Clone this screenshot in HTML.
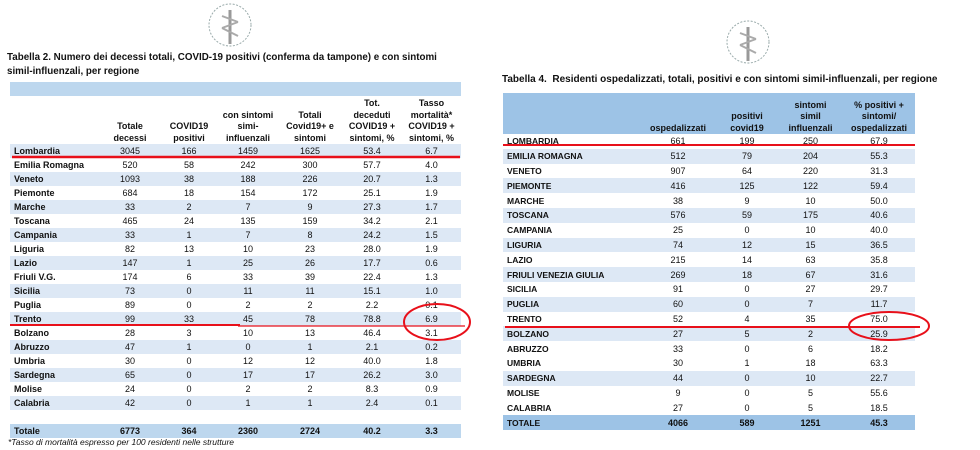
<!DOCTYPE html>
<html><head><meta charset="utf-8"><style>
body{margin:0;width:980px;height:450px;background:#fff;position:relative;overflow:hidden;font-family:"Liberation Sans",sans-serif;color:#111}
.abs{position:absolute}
table{border-collapse:collapse;table-layout:fixed;position:absolute}
td{padding:0;font-size:9px;text-align:center;white-space:nowrap;overflow:hidden;line-height:10px}
td.l{text-align:left;font-weight:bold;padding-left:4px}
#t1 tr.d td{height:14px}
#t1 tr.s td{background:#dde8f5}
#t1 th,#t2 th{font-size:9px;font-weight:bold;vertical-align:bottom;line-height:11.5px;padding:0}
#t2 tr.d td{height:14.8px}
#t2 tr.s td{background:#dde8f5}
#t2 td.l{padding-left:4px;font-size:8.5px}
.tit{font-weight:bold;font-size:9.8px}
</style></head><body>
<svg class="abs" style="left:0;top:0" width="980" height="450">
 <g fill="none" stroke="#9aa" stroke-width="1">
  <circle cx="230" cy="25" r="21" stroke-dasharray="2 1.5"/>
  <circle cx="748" cy="42" r="21" stroke-dasharray="2 1.5"/>
 </g>
 <g stroke="#999" stroke-width="3">
  <line x1="230" y1="10" x2="230" y2="44"/><line x1="748" y1="27" x2="748" y2="61"/>
 </g>
 <g stroke="#aaa" stroke-width="2">
  <path d="M222 16 L238 22 M222 28 L238 22 M222 28 L238 36" fill="none"/>
  <path d="M740 33 L756 39 M740 45 L756 39 M740 45 L756 53" fill="none"/>
 </g>
</svg>
<div class="abs tit" style="left:7px;top:51px;line-height:14px">Tabella 2. Numero dei decessi totali, COVID-19 positivi (conferma da tampone) e con sintomi<br>simil-influenzali, per regione</div>
<div class="abs tit" style="left:502px;top:74px;font-size:10px">Tabella 4.&nbsp; Residenti ospedalizzati, totali, positivi e con sintomi simil-influenzali, per regione</div>

<table id="t1" style="left:10px;top:82px;width:451px">
<colgroup><col style="width:90px"><col style="width:60px"><col style="width:58px"><col style="width:60px"><col style="width:64px"><col style="width:60px"><col style="width:59px"></colgroup>
<tr><td colspan="7" style="height:14px;background:#bdd7ee"></td></tr>
<tr><th style="height:48px"></th><th>Totale<br>decessi</th><th>COVID19<br>positivi</th><th>con sintomi<br>simi-<br>influenzali</th><th>Totali<br>Covid19+ e<br>sintomi</th><th>Tot.<br>deceduti<br>COVID19 +<br>sintomi, %</th><th>Tasso<br>mortalità*<br>COVID19 +<br>sintomi, %</th></tr>
<tr class="d s"><td class="l">Lombardia</td><td>3045</td><td>166</td><td>1459</td><td>1625</td><td>53.4</td><td>6.7</td></tr>
<tr class="d"><td class="l">Emilia Romagna</td><td>520</td><td>58</td><td>242</td><td>300</td><td>57.7</td><td>4.0</td></tr>
<tr class="d s"><td class="l">Veneto</td><td>1093</td><td>38</td><td>188</td><td>226</td><td>20.7</td><td>1.3</td></tr>
<tr class="d"><td class="l">Piemonte</td><td>684</td><td>18</td><td>154</td><td>172</td><td>25.1</td><td>1.9</td></tr>
<tr class="d s"><td class="l">Marche</td><td>33</td><td>2</td><td>7</td><td>9</td><td>27.3</td><td>1.7</td></tr>
<tr class="d"><td class="l">Toscana</td><td>465</td><td>24</td><td>135</td><td>159</td><td>34.2</td><td>2.1</td></tr>
<tr class="d s"><td class="l">Campania</td><td>33</td><td>1</td><td>7</td><td>8</td><td>24.2</td><td>1.5</td></tr>
<tr class="d"><td class="l">Liguria</td><td>82</td><td>13</td><td>10</td><td>23</td><td>28.0</td><td>1.9</td></tr>
<tr class="d s"><td class="l">Lazio</td><td>147</td><td>1</td><td>25</td><td>26</td><td>17.7</td><td>0.6</td></tr>
<tr class="d"><td class="l">Friuli V.G.</td><td>174</td><td>6</td><td>33</td><td>39</td><td>22.4</td><td>1.3</td></tr>
<tr class="d s"><td class="l">Sicilia</td><td>73</td><td>0</td><td>11</td><td>11</td><td>15.1</td><td>1.0</td></tr>
<tr class="d"><td class="l">Puglia</td><td>89</td><td>0</td><td>2</td><td>2</td><td>2.2</td><td>0.1</td></tr>
<tr class="d s"><td class="l">Trento</td><td>99</td><td>33</td><td>45</td><td>78</td><td>78.8</td><td>6.9</td></tr>
<tr class="d"><td class="l">Bolzano</td><td>28</td><td>3</td><td>10</td><td>13</td><td>46.4</td><td>3.1</td></tr>
<tr class="d s"><td class="l">Abruzzo</td><td>47</td><td>1</td><td>0</td><td>1</td><td>2.1</td><td>0.2</td></tr>
<tr class="d"><td class="l">Umbria</td><td>30</td><td>0</td><td>12</td><td>12</td><td>40.0</td><td>1.8</td></tr>
<tr class="d s"><td class="l">Sardegna</td><td>65</td><td>0</td><td>17</td><td>17</td><td>26.2</td><td>3.0</td></tr>
<tr class="d"><td class="l">Molise</td><td>24</td><td>0</td><td>2</td><td>2</td><td>8.3</td><td>0.9</td></tr>
<tr class="d s"><td class="l">Calabria</td><td>42</td><td>0</td><td>1</td><td>1</td><td>2.4</td><td>0.1</td></tr>
<tr class="d"><td colspan="7"></td></tr>
<tr class="d" style="font-weight:bold"><td class="l" style="background:#bdd7ee">Totale</td><td style="background:#bdd7ee;font-weight:bold">6773</td><td style="background:#bdd7ee;font-weight:bold">364</td><td style="background:#bdd7ee;font-weight:bold">2360</td><td style="background:#bdd7ee;font-weight:bold">2724</td><td style="background:#bdd7ee;font-weight:bold">40.2</td><td style="background:#bdd7ee;font-weight:bold">3.3</td></tr>
</table>
<div class="abs" style="left:8px;top:437px;font-size:8.5px;font-style:italic">*Tasso di mortalità espresso per 100 residenti nelle strutture</div>

<table id="t2" style="left:503px;top:93px;width:412px">
<colgroup><col style="width:137px"><col style="width:76px"><col style="width:62px"><col style="width:65px"><col style="width:72px"></colgroup>
<tr style="background:#9dc3e6"><th style="height:41px"></th><th>ospedalizzati</th><th>positivi<br>covid19</th><th>sintomi<br>simil<br>influenzali</th><th>% positivi +<br>sintomi/<br>ospedalizzati</th></tr>
<tr class="d"><td class="l">LOMBARDIA</td><td>661</td><td>199</td><td>250</td><td>67.9</td></tr>
<tr class="d s"><td class="l">EMILIA ROMAGNA</td><td>512</td><td>79</td><td>204</td><td>55.3</td></tr>
<tr class="d"><td class="l">VENETO</td><td>907</td><td>64</td><td>220</td><td>31.3</td></tr>
<tr class="d s"><td class="l">PIEMONTE</td><td>416</td><td>125</td><td>122</td><td>59.4</td></tr>
<tr class="d"><td class="l">MARCHE</td><td>38</td><td>9</td><td>10</td><td>50.0</td></tr>
<tr class="d s"><td class="l">TOSCANA</td><td>576</td><td>59</td><td>175</td><td>40.6</td></tr>
<tr class="d"><td class="l">CAMPANIA</td><td>25</td><td>0</td><td>10</td><td>40.0</td></tr>
<tr class="d s"><td class="l">LIGURIA</td><td>74</td><td>12</td><td>15</td><td>36.5</td></tr>
<tr class="d"><td class="l">LAZIO</td><td>215</td><td>14</td><td>63</td><td>35.8</td></tr>
<tr class="d s"><td class="l">FRIULI VENEZIA GIULIA</td><td>269</td><td>18</td><td>67</td><td>31.6</td></tr>
<tr class="d"><td class="l">SICILIA</td><td>91</td><td>0</td><td>27</td><td>29.7</td></tr>
<tr class="d s"><td class="l">PUGLIA</td><td>60</td><td>0</td><td>7</td><td>11.7</td></tr>
<tr class="d"><td class="l">TRENTO</td><td>52</td><td>4</td><td>35</td><td>75.0</td></tr>
<tr class="d s"><td class="l">BOLZANO</td><td>27</td><td>5</td><td>2</td><td>25.9</td></tr>
<tr class="d"><td class="l">ABRUZZO</td><td>33</td><td>0</td><td>6</td><td>18.2</td></tr>
<tr class="d"><td class="l">UMBRIA</td><td>30</td><td>1</td><td>18</td><td>63.3</td></tr>
<tr class="d s"><td class="l">SARDEGNA</td><td>44</td><td>0</td><td>10</td><td>22.7</td></tr>
<tr class="d"><td class="l">MOLISE</td><td>9</td><td>0</td><td>5</td><td>55.6</td></tr>
<tr class="d"><td class="l">CALABRIA</td><td>27</td><td>0</td><td>5</td><td>18.5</td></tr>
<tr class="d" style="background:#9dc3e6;font-weight:bold"><td class="l">TOTALE</td><td style="font-weight:bold">4066</td><td style="font-weight:bold">589</td><td style="font-weight:bold">1251</td><td style="font-weight:bold">45.3</td></tr>
</table>

<svg class="abs" style="left:0;top:0" width="980" height="450">
 <g stroke="#e8101a" fill="none">
  <line x1="12" y1="157" x2="460" y2="157" stroke-width="2.5"/>
  <line x1="10" y1="325" x2="240" y2="325" stroke-width="2"/>
  <line x1="238" y1="326" x2="465" y2="326" stroke-width="1.3"/>
  <ellipse cx="437" cy="322" rx="33" ry="18" stroke-width="2"/>
  <line x1="503" y1="145" x2="915" y2="145" stroke-width="2"/>
  <line x1="505" y1="327" x2="920" y2="327" stroke-width="2"/>
  <ellipse cx="889" cy="326" rx="40" ry="14" stroke-width="2"/>
 </g>
</svg>
</body></html>
